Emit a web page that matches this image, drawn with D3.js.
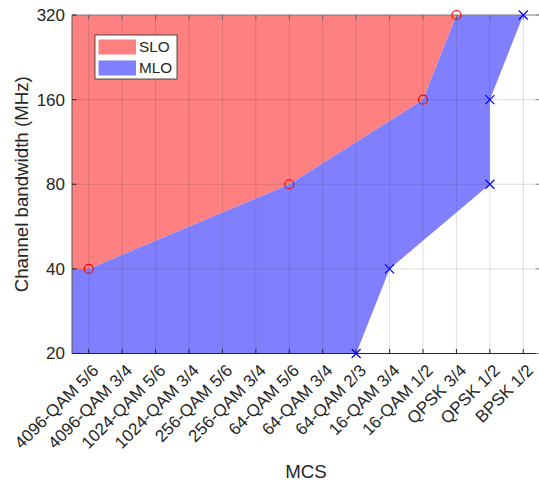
<!DOCTYPE html>
<html><head><meta charset="utf-8">
<script src="https://cdn.jsdelivr.net/npm/d3@7"></script>
<style>body{margin:0;background:#fff}svg{display:block}text{font-family:"Liberation Sans",Arial,sans-serif;fill:#262626}</style>
</head><body><svg id="c" width="539" height="481"></svg>
<script>
const categories = ["4096-QAM 5/6","4096-QAM 3/4","1024-QAM 5/6","1024-QAM 3/4","256-QAM 5/6","256-QAM 3/4","64-QAM 5/6","64-QAM 3/4","64-QAM 2/3","16-QAM 3/4","16-QAM 1/2","QPSK 3/4","QPSK 1/2","BPSK 1/2"];
const yTicks = [20, 40, 80, 160, 320];
const sloMcs = ["4096-QAM 5/6","64-QAM 5/6","16-QAM 1/2","QPSK 3/4"];
const sloBw  = [40, 80, 160, 320];
const mloMcs = ["64-QAM 2/3","16-QAM 3/4","QPSK 1/2","QPSK 1/2","BPSK 1/2"];
const mloBw  = [20, 40, 80, 160, 320];

const svg = d3.select("#c");
const L = 72, R = 540, T = 15, B = 353.5;
const idx = c => categories.indexOf(c) + 1;
const x = d3.scaleLinear().domain([0.5, categories.length + 0.5]).range([L, R]);
const y = d3.scaleLog().base(2).domain([20, 320]).range([B, T]);

const slo = sloMcs.map((m,i)=>[idx(m), sloBw[i]]);
const mlo = mloMcs.map((m,i)=>[idx(m), mloBw[i]]);
const ymin = yTicks[0], ymax = yTicks[yTicks.length-1];

const redPts = [[0.5, sloBw[0]], ...slo, [0.5, ymax]];
const bluePts = [[0.5, sloBw[0]], [0.5, ymin], ...mlo, ...slo.slice().reverse()];
const line = d3.line().x(d=>x(d[0])).y(d=>y(d[1]));
svg.append("path").attr("d", line(redPts)+"Z").attr("fill","#ff8080");
svg.append("path").attr("d", line(bluePts)+"Z").attr("fill","#8080ff");

const g = svg.append("g");
categories.forEach((c,i)=>{
  g.append("line").attr("x1",x(i+1)).attr("x2",x(i+1)).attr("y1",T).attr("y2",B)
   .attr("stroke","rgba(38,38,38,0.15)").attr("stroke-width",1);
});
yTicks.forEach(v=>{
  g.append("line").attr("x1",L).attr("x2",R).attr("y1",y(v)).attr("y2",y(v))
   .attr("stroke","rgba(38,38,38,0.15)").attr("stroke-width",1);
});

const ax = svg.append("g").attr("stroke","#262626").attr("stroke-width",1);
ax.append("line").attr("x1",L).attr("x2",R).attr("y1",B).attr("y2",B);
ax.append("line").attr("x1",L).attr("x2",L).attr("y1",T).attr("y2",B).attr("stroke","#555");
ax.append("line").attr("x1",L).attr("x2",R).attr("y1",T).attr("y2",T).attr("stroke","#888");
ax.append("line").attr("x1",R).attr("x2",R).attr("y1",T).attr("y2",B).attr("stroke","#888");
categories.forEach((c,i)=>{
  ax.append("line").attr("x1",x(i+1)).attr("x2",x(i+1)).attr("y1",B).attr("y2",B-4.5);
  ax.append("line").attr("x1",x(i+1)).attr("x2",x(i+1)).attr("y1",T).attr("y2",T+4.5).attr("stroke","#666");
});
yTicks.forEach(v=>{
  ax.append("line").attr("x1",L).attr("x2",L+4.5).attr("y1",y(v)).attr("y2",y(v));
  ax.append("line").attr("x1",R).attr("x2",R-4.5).attr("y1",y(v)).attr("y2",y(v)).attr("stroke","#888");
});

categories.forEach((c,i)=>{
  svg.append("text").attr("transform",`translate(${x(i+1)+11},${B+18}) rotate(-45)`)
    .attr("text-anchor","end").attr("font-size",17).text(c);
});
yTicks.forEach(v=>{
  svg.append("text").attr("x",L-7).attr("y",y(v)).attr("dy","0.35em")
    .attr("text-anchor","end").attr("font-size",17).text(v);
});
svg.append("text").attr("x",(L+R)/2).attr("y",477.5).attr("text-anchor","middle")
  .attr("font-size",18.7).text("MCS");
svg.append("text").attr("transform",`translate(28,${(T+B)/2}) rotate(-90)`)
  .attr("text-anchor","middle").attr("font-size",18.7).text("Channel bandwidth (MHz)");

slo.forEach(d=>{
  svg.append("circle").attr("cx",x(d[0])).attr("cy",y(d[1])).attr("r",4.5)
    .attr("fill","none").attr("stroke","#ff0000").attr("stroke-width",1.2);
});
mlo.forEach(d=>{
  const cx=x(d[0]), cy=y(d[1]), s=4.5;
  svg.append("path").attr("d",`M${cx-s},${cy-s}L${cx+s},${cy+s}M${cx-s},${cy+s}L${cx+s},${cy-s}`)
    .attr("stroke","#0000ff").attr("stroke-width",1.2);
});

const lg = svg.append("g");
lg.append("rect").attr("x",95).attr("y",35).attr("width",82).attr("height",44)
  .attr("fill","#fff").attr("stroke","#262626").attr("stroke-width",0.8);
[["SLO","#ff8080"],["MLO","#8080ff"]].forEach((d,i)=>{
  lg.append("rect").attr("x",98.5).attr("y",39.5+i*21).attr("width",37.5).attr("height",15).attr("fill",d[1]);
  lg.append("text").attr("x",139).attr("y",47+i*21).attr("dy","0.35em").attr("font-size",15.3).text(d[0]);
});
</script></body></html>
